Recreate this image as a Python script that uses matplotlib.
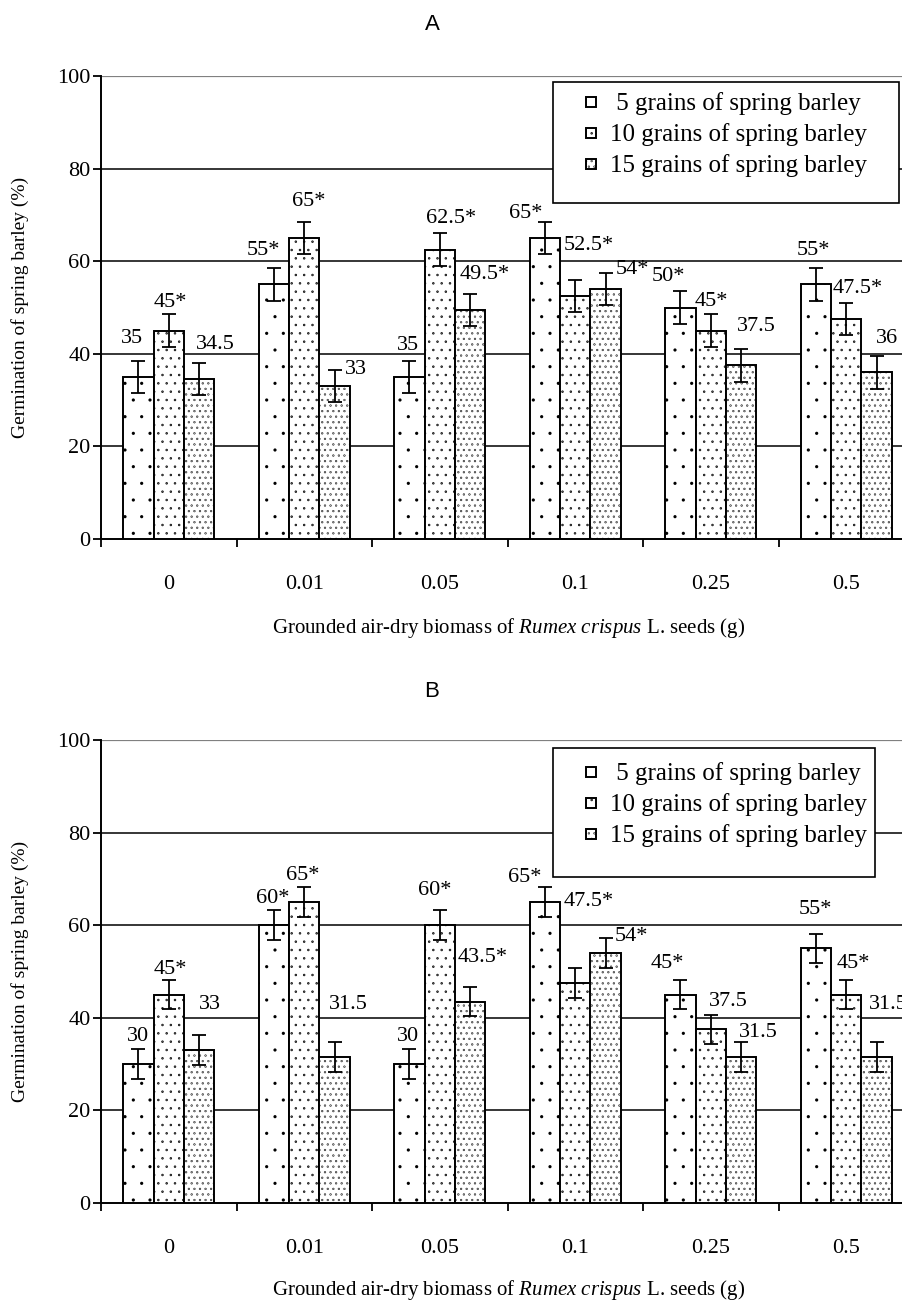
import matplotlib
matplotlib.use("Agg")
import matplotlib.pyplot as plt
import matplotlib.hatch as mhatch
import numpy as np
from matplotlib.patches import Rectangle
from matplotlib.container import BarContainer
from matplotlib.legend_handler import HandlerPatch, update_from_first_child

plt.rcParams['font.family'] = ['Liberation Serif', 'DejaVu Serif']
plt.rcParams['mathtext.fontset'] = 'custom'
plt.rcParams['mathtext.rm'] = 'Liberation Serif'
plt.rcParams['mathtext.it'] = 'Liberation Serif:italic'
plt.rcParams['hatch.linewidth'] = 1.2
mhatch.SmallFilledCircles.size = 0.045

# ---------------- data ----------------
categories = ["0", "0.01", "0.05", "0.1", "0.25", "0.5"]
series_names = [" 5 grains of spring barley", "10 grains of spring barley", "15 grains of spring barley"]

A_5 = [35, 55, 35, 65, 50, 55]
A_10 = [45, 65, 62.5, 52.5, 45, 47.5]
A_15 = [34.5, 33, 49.5, 54, 37.5, 36]
A_err = [3.5, 3.5, 3.5]
A_labels_5 = ["35", "55*", "35", "65*", "50*", "55*"]
A_labels_10 = ["45*", "65*", "62.5*", "52.5*", "45*", "47.5*"]
A_labels_15 = ["34.5", "33", "49.5*", "54*", "37.5", "36"]

B_5 = [30, 60, 30, 65, 45, 55]
B_10 = [45, 65, 60, 47.5, 37.5, 45]
B_15 = [33, 31.5, 43.5, 54, 31.5, 31.5]
B_err = [3.2, 3.2, 3.2]
B_labels_5 = ["30", "60*", "30", "65*", "45*", "55*"]
B_labels_10 = ["45*", "65*", "60*", "47.5*", "37.5", "45*"]
B_labels_15 = ["33", "31.5", "43.5*", "54*", "31.5", "31.5"]

y_ticks = [0, 20, 40, 60, 80, 100]

# ---------------- layout (label placements in data coords) ----------------
A_label_pos = [
    [(-0.271, 43.4), (0.696, 62.4), (1.766, 41.7), (2.637, 70.2), (3.685, 56.8), (4.755, 62.4)],
    [(0.009, 51.0), (1.035, 73.0), (2.083, 69.3), (3.101, 63.3), (4.002, 51.2), (5.087, 54.2)],
    [(0.341, 42.1), (1.382, 36.7), (2.334, 57.2), (3.419, 58.1), (4.334, 46.0), (5.301, 43.2)],
]
B_label_pos = [
    [(-0.227, 35.9), (0.769, 65.7), (1.766, 35.9), (2.629, 70.2), (3.677, 51.8), (4.769, 63.3)],
    [(0.009, 50.5), (0.991, 70.8), (1.965, 67.4), (3.101, 65.2), (4.127, 43.6), (5.050, 51.8)],
    [(0.304, 42.8), (1.323, 42.8), (2.319, 53.1), (3.411, 57.5), (4.349, 36.9), (5.308, 42.8)],
]

hatches = ['.', '..', '...']
W, H = 902, 1300
DPI = 100

fig = plt.figure(figsize=(W / DPI, H / DPI), dpi=DPI)


def px_axes(left, top, right, bottom):
    return fig.add_axes([left / W, 1 - bottom / H, (right - left) / W, (bottom - top) / H])


def make_square(legend, orig_handle, xdescent, ydescent, width, height, fontsize):
    s = 10 * 72 / DPI
    return Rectangle((width - s - xdescent, (height - s) / 2 - ydescent), s, s)


def draw_panel(ax, s5, s10, s15, err, labels, label_pos, title, title_y, legend_box, legend_anchor_y):
    series = [s5, s10, s15]
    x = np.arange(len(categories))
    bw = 0.225
    for k, vals in enumerate(series):
        xs = x + (k - 1) * bw
        ax.bar(xs, vals, width=bw, color='white', edgecolor='black', linewidth=1.4,
               hatch=hatches[k], label=series_names[k], zorder=3)
        ax.errorbar(xs, vals, yerr=err[k], fmt='none', ecolor='black', elinewidth=1.3,
                    capsize=4.7, capthick=1.3, zorder=4)
        for j, t in enumerate(labels[k]):
            px, py = label_pos[k][j]
            ax.text(px, py, t, ha='center', va='center', fontsize=16, zorder=5)
    ax.set_xlim(-0.5, len(categories) - 0.5)
    ax.set_ylim(0, 100)
    for yv in y_ticks[1:-1]:
        ax.axhline(yv, color='black', linewidth=1.1, zorder=1)
    ax.axhline(100, color='#808080', linewidth=1.6, zorder=1)
    ax.set_yticks(y_ticks)
    ax.set_yticklabels([str(v) for v in y_ticks], fontsize=16)
    ax.set_xticks(np.arange(len(categories) + 1) - 0.5)
    ax.set_xticklabels([])
    ax.set_xticks(x, minor=True)
    ax.set_xticklabels(categories, minor=True, fontsize=16)
    ax.tick_params(axis='x', which='major', direction='out', length=6, width=1.3)
    ax.tick_params(axis='x', which='minor', length=0, pad=26)
    ax.tick_params(axis='y', direction='out', length=6, width=1.3, pad=1.5)
    for sp in ['top', 'right']:
        ax.spines[sp].set_visible(False)
    for sp in ['left', 'bottom']:
        ax.spines[sp].set_linewidth(1.4)
    top_px = H - ax.get_position().y1 * H
    bot_px = H - ax.get_position().y0 * H
    fig.text(20 / W, 1 - (top_px + bot_px) / 2 / H, "Germination of spring barley (%)",
             rotation=90, ha='center', va='center', fontsize=14)
    x0, top, x1, bottom = legend_box
    ax.add_patch(Rectangle((x0 / W, 1 - bottom / H), (x1 - x0) / W, (bottom - top) / H,
                           transform=fig.transFigure, facecolor='white', edgecolor='black',
                           linewidth=1.2, zorder=9, clip_on=False))
    leg = ax.legend(loc='upper left', bbox_to_anchor=(x0 / W, 1 - legend_anchor_y / H),
                    bbox_transform=fig.transFigure, borderaxespad=0,
                    fontsize=18, frameon=False, handlelength=1.28, handleheight=0.6,
                    handletextpad=0.6, borderpad=0.42, labelspacing=0.32,
                    handler_map={BarContainer: HandlerPatch(patch_func=make_square,
                                                            update_func=update_from_first_child)})
    leg.set_zorder(10)
    fig.text(432 / W, 1 - title_y / H, title, ha='center', va='center', fontsize=16,
             family='Liberation Sans')


axA = px_axes(101, 76, 914, 539)
draw_panel(axA, A_5, A_10, A_15, A_err,
           [A_labels_5, A_labels_10, A_labels_15], A_label_pos, "A", 25, (553, 82, 899, 203), 82)
fig.text(509 / W, 1 - 628 / H, r"Grounded air-dry biomass of $\mathit{Rumex\ crispus}$ L. seeds (g)",
         ha='center', va='center', fontsize=15)

axB = px_axes(101, 740, 914, 1203)
draw_panel(axB, B_5, B_10, B_15, B_err,
           [B_labels_5, B_labels_10, B_labels_15], B_label_pos, "B", 692, (553, 748, 875, 877), 752)
fig.text(509 / W, 1 - 1290 / H, r"Grounded air-dry biomass of $\mathit{Rumex\ crispus}$ L. seeds (g)",
         ha='center', va='center', fontsize=15)

fig.savefig("out.png", dpi=DPI)
